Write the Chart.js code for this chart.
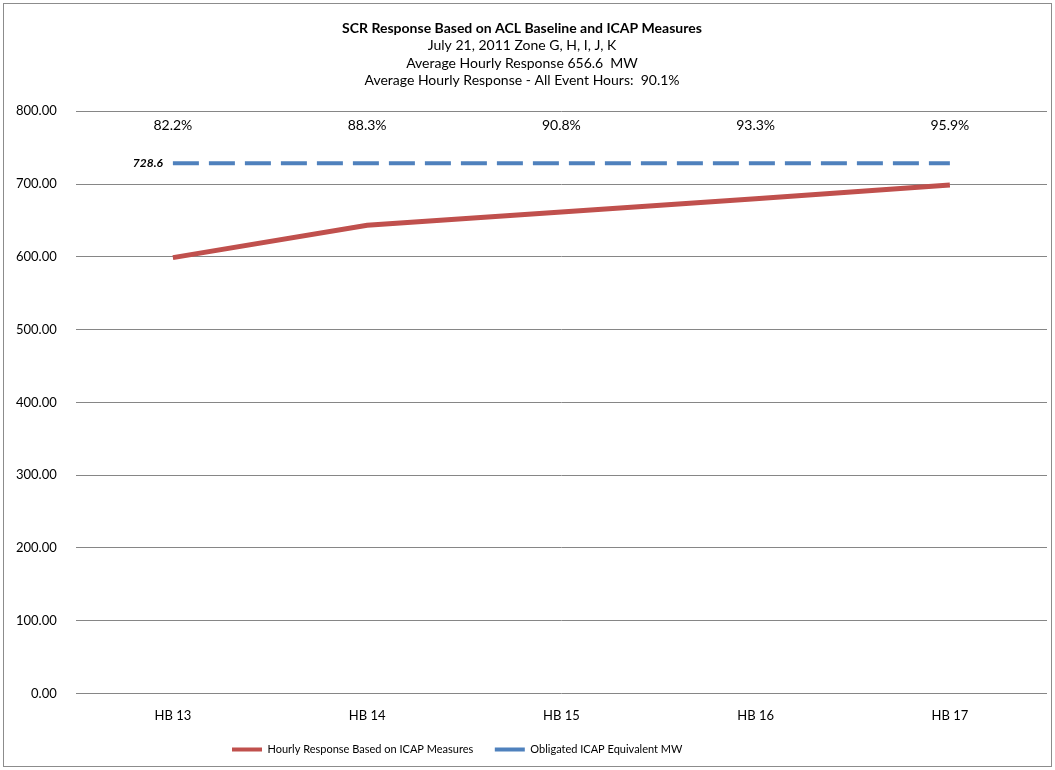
<!DOCTYPE html>
<html lang="en">
<head>
<meta charset="UTF-8">
<title>SCR Response Based on ACL Baseline and ICAP Measures</title>
<script src="https://cdn.jsdelivr.net/npm/chart.js"></script>
<style>
  body { margin: 0; background: #fff; }
</style>
</head>
<body>
<canvas id="scrChart" width="1055" height="770"></canvas>
<script>
// categories and values
var hours = ['HB 13', 'HB 14', 'HB 15', 'HB 16', 'HB 17'];
var hourlyResponse = [598.9, 643.4, 661.6, 679.8, 698.7];
var obligatedMW = [728.6, 728.6, 728.6, 728.6, 728.6];
var pctLabels = ['82.2%', '88.3%', '90.8%', '93.3%', '95.9%'];
var pctLevel = 780;
var obligatedLabel = '728.6';

var fontFam = 'Lato, "Open Sans", sans-serif';
var legendStartX = 232; // Excel puts the legend a bit left of centre

// border round the whole chart, percent labels and the 728.6 tag
var extras = {
    id: 'extras',
    afterLayout: function (chart) {
        var lg = chart.legend;
        if (!lg || !lg.lineWidths) return;
        var pad = lg.options.labels.padding;
        var start = (lg.left + pad + lg.right - lg.lineWidths[0]) / 2;
        var shift = legendStartX - start;
        lg.left += shift;
        lg.right += shift;
    },
    beforeDraw: function (chart) {
        var c = chart.ctx;
        c.save();
        c.strokeStyle = '#8c8c8c';
        c.lineWidth = 1;
        c.strokeRect(3.5, 3.5, chart.width - 7, chart.height - 7);
        c.restore();
    },
    afterDatasetsDraw: function (chart) {
        var c = chart.ctx;
        var xs = chart.scales.x, ys = chart.scales.y;
        c.save();
        c.fillStyle = '#000';
        c.font = '14px ' + fontFam;
        c.textAlign = 'center';
        c.textBaseline = 'middle';
        pctLabels.forEach(function (t, i) {
            c.fillText(t, xs.getPixelForValue(i), ys.getPixelForValue(pctLevel));
        });
        c.font = 'italic bold 12px ' + fontFam;
        c.textAlign = 'right';
        c.fillText(obligatedLabel, xs.getPixelForValue(0) - 10, ys.getPixelForValue(obligatedMW[0]));
        c.restore();
    }
};

var ctx = document.getElementById('scrChart').getContext('2d');
var chart = new Chart(ctx, {
    type: 'line',
    data: {
        labels: hours,
        datasets: [{
            label: 'Hourly Response Based on ICAP Measures',
            data: hourlyResponse,
            borderColor: '#C0504D',
            backgroundColor: '#C0504D',
            borderWidth: 5,
            pointRadius: 0,
            tension: 0,
            fill: false
        }, {
            label: 'Obligated ICAP Equivalent MW',
            data: obligatedMW,
            borderColor: '#4F81BD',
            backgroundColor: '#4F81BD',
            borderWidth: 4,
            borderDash: [26, 10],
            pointRadius: 0,
            fill: false
        }]
    },
    options: {
        responsive: false,
        animation: false,
        layout: { padding: { left: -3, right: 8, top: 6, bottom: 5 } },
        plugins: {
            title: {
                display: true,
                text: 'SCR Response Based on ACL Baseline and ICAP Measures',
                color: '#000',
                font: { family: fontFam, size: 14, weight: 'bold' },
                padding: { top: 14, bottom: 0 }
            },
            subtitle: {
                display: true,
                text: ['July 21, 2011 Zone G, H, I, J, K', 'Average Hourly Response 656.6  MW',
                       'Average Hourly Response - All Event Hours:  90.1%'],
                color: '#000',
                font: { family: fontFam, size: 14, lineHeight: 1.25 },
                padding: { top: 0, bottom: 22 }
            },
            legend: {
                position: 'bottom',
                labels: {
                    color: '#000',
                    font: { family: fontFam, size: 11 },
                    boxWidth: 30,
                    boxHeight: 4,
                    padding: 5,
                    generateLabels: function (ch) {
                        return Chart.defaults.plugins.legend.labels.generateLabels(ch).map(function (it, i) {
                            it.lineWidth = 0;
                            if (i === 0) it.text += '\u2003\u2003';
                            return it;
                        });
                    }
                }
            },
            tooltip: { enabled: false }
        },
        scales: {
            x: {
                offset: true,
                grid: { display: false, drawTicks: false },
                border: { display: false },
                ticks: { color: '#000', font: { family: fontFam, size: 13 }, padding: 15 }
            },
            y: {
                min: 0,
                max: 800,
                ticks: {
                    stepSize: 100,
                    color: '#000',
                    font: { family: fontFam, size: 13 },
                    padding: 19,
                    callback: function (v) { return v.toFixed(2); }
                },
                grid: { color: '#868686', lineWidth: 1, drawTicks: false },
                border: { display: false }
            }
        }
    },
    plugins: [extras]
});
</script>
</body>
</html>
